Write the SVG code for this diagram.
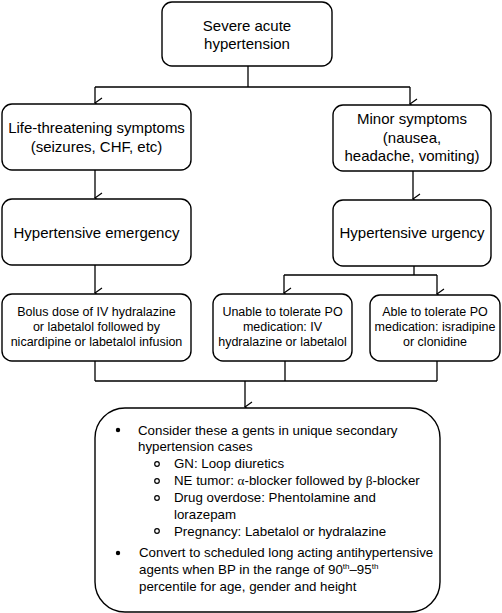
<svg xmlns="http://www.w3.org/2000/svg" width="502" height="613" viewBox="0 0 502 613">
<defs>
<marker id="arr" markerWidth="12" markerHeight="12" refX="6" refY="10" orient="auto-start-reverse" markerUnits="userSpaceOnUse" viewBox="0 0 12 12">
<path d="M1,3 L6,10 L11,3" fill="none" stroke="#000" stroke-width="1.2"/>
</marker>
<style>
.box{fill:#fff;stroke:#000;stroke-width:1.4}
.t{font-family:"Liberation Sans",Arial,sans-serif;font-size:15px;fill:#000;text-anchor:middle}
.s{font-family:"Liberation Sans",Arial,sans-serif;font-size:12.5px;fill:#000;text-anchor:middle}
.b{font-family:"Liberation Sans",Arial,sans-serif;font-size:13.3px;fill:#000}
.c{fill:none;stroke:#000;stroke-width:1.3}
.g{font-family:"Liberation Serif","Times New Roman",serif}
</style>
</defs>
<rect width="502" height="613" fill="#fff"/>
<g id="connectors">
<path class="c" d="M248,66 V87 M95,87 H410"/>
<path class="c" d="M95,87 V103" marker-end="url(#arr)"/>
<path class="c" d="M410,87 V104" marker-end="url(#arr)"/>
<path class="c" d="M95,170 V198" marker-end="url(#arr)"/>
<path class="c" d="M413,171 V199" marker-end="url(#arr)"/>
<path class="c" d="M95,265 V293" marker-end="url(#arr)"/>
<path class="c" d="M414,266 V275 M284,275 H437"/>
<path class="c" d="M284,275 V293" marker-end="url(#arr)"/>
<path class="c" d="M437,275 V294" marker-end="url(#arr)"/>
<path class="c" d="M95,361 V381 M285,361 V381 M437,361 V381 M95,381 H437"/>
<path class="c" d="M245,381 V407" marker-end="url(#arr)"/>
</g>
<g id="n1"><rect class="box" x="162" y="2" width="170" height="64" rx="10"/>
<text class="t" x="247" y="31">Severe acute</text><text class="t" x="247" y="49">hypertension</text></g>
<g id="n2"><rect class="box" x="2" y="104" width="189" height="66" rx="10"/>
<text class="t" x="96.5" y="133">Life-threatening symptoms</text><text class="t" x="96.5" y="152">(seizures, CHF, etc)</text></g>
<g id="n3"><rect class="box" x="333" y="105" width="158" height="66" rx="10"/>
<text class="t" x="412" y="124">Minor symptoms</text><text class="t" x="412" y="143">(nausea,</text><text class="t" x="412" y="161">headache, vomiting)</text></g>
<g id="n4"><rect class="box" x="2" y="199" width="189" height="66" rx="10"/>
<text class="t" x="96.5" y="238">Hypertensive emergency</text></g>
<g id="n5"><rect class="box" x="333" y="200" width="158" height="66" rx="10"/>
<text class="t" x="412" y="238">Hypertensive urgency</text></g>
<g id="n6"><rect class="box" x="2" y="294" width="189" height="67" rx="10"/>
<text class="s" x="96.5" y="316">Bolus dose of IV hydralazine</text><text class="s" x="96.5" y="331">or labetalol followed by</text><text class="s" x="96.5" y="346">nicardipine or labetalol infusion</text></g>
<g id="n7"><rect class="box" x="213" y="294" width="139" height="67" rx="10"/>
<text class="s" x="282.5" y="316">Unable to tolerate PO</text><text class="s" x="282.5" y="331">medication: IV</text><text class="s" x="282.5" y="346">hydralazine or labetalol</text></g>
<g id="n8"><rect class="box" x="370" y="295" width="130" height="66" rx="10"/>
<text class="s" x="435" y="316">Able to tolerate PO</text><text class="s" x="435" y="331">medication: isradipine</text><text class="s" x="435" y="346">or clonidine</text></g>
<g id="n9"><rect class="box" x="95" y="408" width="345" height="204" rx="30"/>
<circle cx="118" cy="430" r="2.2"/>
<text class="b" x="138" y="435">Consider these a gents in unique secondary</text>
<text class="b" x="138" y="451">hypertension cases</text>
<g fill="none" stroke="#000" stroke-width="1.2">
<circle cx="157" cy="464" r="2.3"/><circle cx="157" cy="481" r="2.3"/><circle cx="157" cy="498" r="2.3"/><circle cx="157" cy="531" r="2.3"/>
</g>
<text class="b" x="174" y="468">GN: Loop diuretics</text>
<text class="b" x="174" y="485">NE tumor: <tspan class="g">α</tspan>-blocker followed by <tspan class="g">β</tspan>-blocker</text>
<text class="b" x="174" y="502">Drug overdose: Phentolamine and</text>
<text class="b" x="174" y="519">lorazepam</text>
<text class="b" x="174" y="536">Pregnancy: Labetalol or hydralazine</text>
<circle cx="118" cy="553" r="2.2"/>
<text class="b" x="139" y="557">Convert to scheduled long acting antihypertensive</text>
<text class="b" x="139" y="574">agents when BP in the range of 90<tspan font-size="8" dy="-5">th</tspan><tspan dy="5">–95</tspan><tspan font-size="8" dy="-5">th</tspan></text>
<text class="b" x="139" y="591">percentile for age, gender and height</text>
</g>
</svg>
